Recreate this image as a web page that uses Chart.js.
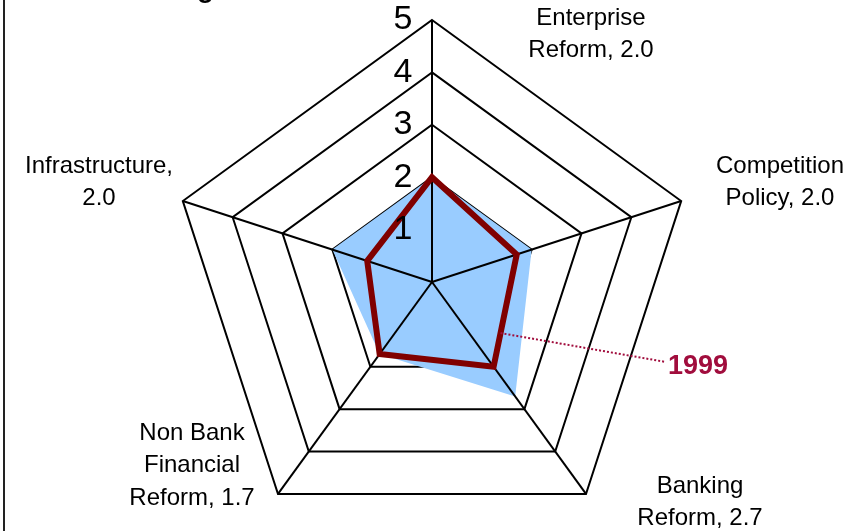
<!DOCTYPE html>
<html>
<head>
<meta charset="utf-8">
<script src="https://cdn.jsdelivr.net/npm/chart.js@4.4.1/dist/chart.umd.min.js"></script>
<style>
  html, body { margin: 0; padding: 0; background: #fff; }
  #frame { position: relative; width: 866px; height: 531px; overflow: hidden; background: #fff; }
  #frame:before { content: ''; position: absolute; left: 3px; top: 0; bottom: 0; width: 2px; background: #222; z-index: 2; }
  canvas { position: absolute; left: 0; top: 0; }
</style>
</head>
<body>
<div id="frame"><canvas id="radar" width="866" height="560"></canvas></div>
<script>
const categories = ['Enterprise Reform', 'Competition Policy', 'Banking Reform', 'Non Bank Financial Reform', 'Infrastructure'];
const latestScores = [2.0, 2.0, 2.7, 1.7, 2.0];
const scores1999 = [2.0, 1.7, 2.0, 1.7, 1.3];
const tickValues = [1, 2, 3, 4, 5];
const seriesName = '1999';

// data labels as placed on the slide: text lines, centre x, middle y of first line
const labelBlocks = [
  { lines: ['Enterprise', 'Reform, 2.0'], x: 591, y: 18 },
  { lines: ['Competition', 'Policy, 2.0'], x: 780, y: 166 },
  { lines: ['Banking', 'Reform, 2.7'], x: 700, y: 486 },
  { lines: ['Non Bank', 'Financial', 'Reform, 1.7'], x: 192, y: 433 },
  { lines: ['Infrastructure,', '2.0'], x: 99, y: 166 }
];

const FONT = '"Liberation Sans", Arial, Helvetica, sans-serif';
const CALLOUT = '#A10D3D';

const overlay = {
  id: 'overlay',
  afterDatasetDraw(chart, args) {
    if (args.index !== 1) return;
    // spokes go over the blue area but under the 1999 line
    const r = chart.scales.r;
    const ctx = chart.ctx;
    ctx.save();
    ctx.strokeStyle = '#000';
    ctx.lineWidth = 2;
    categories.forEach((c, i) => {
      const p = r.getPointPositionForValue(i, r.max);
      ctx.beginPath();
      ctx.moveTo(r.xCenter, r.yCenter);
      ctx.lineTo(p.x, p.y);
      ctx.stroke();
    });
    ctx.restore();
  },
  afterDatasetsDraw(chart) {
    const r = chart.scales.r;
    const ctx = chart.ctx;
    ctx.save();
    ctx.fillStyle = '#000';
    ctx.textAlign = 'center';
    ctx.textBaseline = 'middle';

    ctx.font = '34px ' + FONT;
    tickValues.forEach(v => {
      const p = r.getPointPositionForValue(0, v);
      ctx.fillText(String(v), p.x - 29, p.y);
    });

    ctx.font = '24px ' + FONT;
    labelBlocks.forEach(b => {
      b.lines.forEach((line, i) => ctx.fillText(line, b.x, b.y + i * 32.5));
    });

    // cut-off title at the top edge
    ctx.textAlign = 'left';
    ctx.textBaseline = 'alphabetic';
    ctx.font = 'bold 28px ' + FONT;
    ctx.fillText('g', 197, -3);

    // 1999 callout
    const pts = chart.getDatasetMeta(0).data;
    const a = pts[1], b = pts[2];
    const sx = a.x + (b.x - a.x) * 0.7;
    const sy = a.y + (b.y - a.y) * 0.7;
    ctx.strokeStyle = CALLOUT;
    ctx.lineWidth = 2;
    ctx.setLineDash([2, 2]);
    ctx.beginPath();
    ctx.moveTo(sx, sy);
    ctx.lineTo(666, 362);
    ctx.stroke();
    ctx.setLineDash([]);
    ctx.fillStyle = CALLOUT;
    ctx.font = 'bold 27px ' + FONT;
    ctx.textBaseline = 'middle';
    ctx.fillText(seriesName, 668, 367);
    ctx.restore();
  }
};

new Chart(document.getElementById('radar'), {
  type: 'radar',
  data: {
    labels: categories,
    datasets: [
      {
        label: seriesName,
        data: scores1999,
        borderColor: '#800000',
        borderWidth: 6,
        borderJoinStyle: 'miter',
        fill: false,
        pointRadius: 0,
        tension: 0
      },
      {
        label: 'Latest',
        data: latestScores,
        backgroundColor: '#99CCFF',
        borderWidth: 0,
        fill: 'origin',
        pointRadius: 0,
        tension: 0
      }
    ]
  },
  options: {
    responsive: false,
    animation: false,
    events: [],
    layout: { padding: { left: 170, right: 172, top: 20, bottom: 16 } },
    plugins: { legend: { display: false }, tooltip: { enabled: false } },
    scales: {
      r: {
        min: 0,
        max: 5,
        startAngle: 0,
        ticks: { stepSize: 1, display: false },
        grid: { color: '#000', lineWidth: 2, circular: false },
        angleLines: { display: false },
        pointLabels: { display: false }
      }
    }
  },
  plugins: [overlay]
});
</script>
</body>
</html>
